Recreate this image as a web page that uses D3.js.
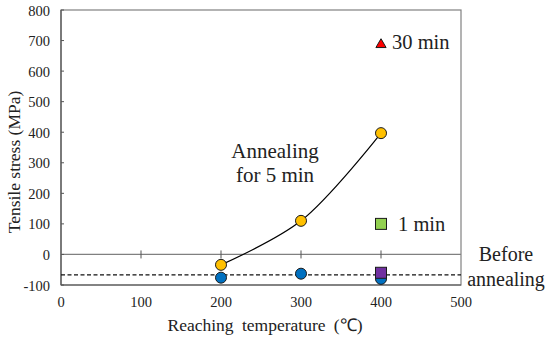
<!DOCTYPE html>
<html>
<head>
<meta charset="utf-8">
<script src="https://cdn.jsdelivr.net/npm/d3@7"></script>
<style>
body { margin: 0; background: #fff; }
</style>
</head>
<body>
<script>
var temps5 = [200, 300, 400];
var stress5 = [-34, 110, 397];
var tempsBefore = [200, 300, 400];
var stressBefore = [-76, -63, -80];
var before400 = -60;   // purple square
var oneMin400 = 100;   // green square
var thirtyMin400 = 690; // red triangle
var beforeLine = -67;
var xTicks = [0, 100, 200, 300, 400, 500];
var yTicks = [-100, 0, 100, 200, 300, 400, 500, 600, 700, 800];

var width = 550, height = 339;
var m = { left: 61, top: 10, right: 461, bottom: 285 };
var serif = "Liberation Serif";

var svg = d3.select("body").append("svg").attr("width", width).attr("height", height);

var x = d3.scaleLinear().domain([0, 500]).range([m.left, m.right]);
var y = d3.scaleLinear().domain([-100, 800]).range([m.bottom, m.top]);

function txt(s, px, py, size, anchor) {
	return svg.append("text").attr("x", px).attr("y", py)
		.attr("font-family", serif).attr("font-size", size)
		.attr("fill", "#222").attr("text-anchor", anchor || "start").text(s);
}

// frame
svg.append("rect").attr("x", m.left).attr("y", m.top)
	.attr("width", m.right - m.left).attr("height", m.bottom - m.top)
	.attr("fill", "none").attr("stroke", "#808080").attr("stroke-width", 1.2);
svg.append("line").attr("x1", m.left).attr("x2", m.left).attr("y1", m.top).attr("y2", m.bottom)
	.attr("stroke", "#555").attr("stroke-width", 1.2);
svg.append("line").attr("x1", m.left).attr("x2", m.right).attr("y1", m.bottom).attr("y2", m.bottom)
	.attr("stroke", "#555").attr("stroke-width", 1.2);

// zero line
svg.append("line").attr("x1", m.left).attr("x2", m.right).attr("y1", y(0)).attr("y2", y(0))
	.attr("stroke", "#808080").attr("stroke-width", 1.2);

// y ticks (inside)
svg.selectAll(".yt").data(yTicks).join("line")
	.attr("x1", m.left).attr("x2", m.left + 3)
	.attr("y1", d => y(d)).attr("y2", d => y(d))
	.attr("stroke", "#555");
yTicks.forEach(d => txt(d, m.left - 11, y(d) + 5.5, 14.5, "end"));

// x ticks on zero line
svg.selectAll(".xt").data(xTicks.slice(1, 5)).join("line")
	.attr("x1", d => x(d)).attr("x2", d => x(d))
	.attr("y1", y(0) - 4).attr("y2", y(0) + 4)
	.attr("stroke", "#555");
xTicks.forEach(d => txt(d, x(d), 307, 14.5, "middle"));

// axis titles
txt("Reaching temperature (\u2103)", 265, 331, 17.5, "middle").attr("word-spacing", 4);
txt("Tensile stress (MPa)", 0, 0, 17.5, "middle")
	.attr("transform", "translate(20,162) rotate(-90)");

// dashed before-annealing line
svg.append("line").attr("x1", m.left).attr("x2", m.right)
	.attr("y1", y(beforeLine)).attr("y2", y(beforeLine))
	.attr("stroke", "#111").attr("stroke-width", 1.2).attr("stroke-dasharray", "4,2.5");

// 5 min curve
var pts5 = temps5.map((t, i) => [t, stress5[i]]);
var line = d3.line().x(d => x(d[0])).y(d => y(d[1])).curve(d3.curveCatmullRom.alpha(0.5));
svg.append("path").attr("d", line(pts5)).attr("fill", "none").attr("stroke", "#000").attr("stroke-width", 1.2);

// before annealing circles
svg.selectAll(".bc").data(tempsBefore).join("circle")
	.attr("cx", d => x(d)).attr("cy", (d, i) => y(stressBefore[i])).attr("r", 5.5)
	.attr("fill", "#0070c0").attr("stroke", "#1a1a1a").attr("stroke-width", 1);

// purple square
svg.append("rect").attr("x", x(400) - 5.5).attr("y", y(before400) - 5.5)
	.attr("width", 11).attr("height", 11)
	.attr("fill", "#7030a0").attr("stroke", "#1a1a1a").attr("stroke-width", 1);

// green square
svg.append("rect").attr("x", x(400) - 5.5).attr("y", y(oneMin400) - 5.5)
	.attr("width", 11).attr("height", 11)
	.attr("fill", "#92d050").attr("stroke", "#1a1a1a").attr("stroke-width", 1);

// 5 min circles
svg.selectAll(".fc").data(pts5).join("circle")
	.attr("cx", d => x(d[0])).attr("cy", d => y(d[1])).attr("r", 5.5)
	.attr("fill", "#ffc000").attr("stroke", "#1a1a1a").attr("stroke-width", 1);

// red triangle
svg.append("path")
	.attr("d", d3.symbol().type(d3.symbolTriangle).size(45)())
	.attr("transform", "translate(" + x(400) + "," + (y(thirtyMin400) + 1) + ")")
	.attr("fill", "#ff0000").attr("stroke", "#1a1a1a").attr("stroke-width", 1);

// annotations
txt("Annealing", 275, 158, 21, "middle");
txt("for 5 min", 275, 182, 21, "middle");
txt("30 min", 392, 49, 20.5);
txt("1 min", 398, 231, 20.5);
txt("Before", 506, 261, 20, "middle");
txt("annealing", 506, 286, 20, "middle");
</script>
</body>
</html>
